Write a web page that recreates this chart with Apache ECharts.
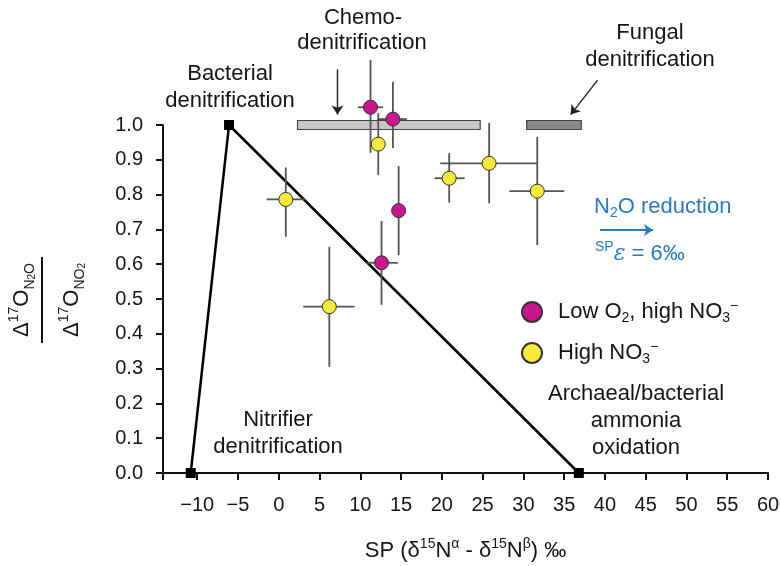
<!DOCTYPE html>
<html><head><meta charset="utf-8">
<script src="https://cdn.jsdelivr.net/npm/echarts@6/dist/echarts.min.js"></script>
<style>html,body{margin:0;padding:0;background:#fff}#c{width:781px;height:566px}</style>
</head><body><div id="c"></div>
<script>
// ---- data ----
const xTicks = [-10, -5, 0, 5, 10, 15, 20, 25, 30, 35, 40, 45, 50, 55, 60];
const yTicks = [0, 0.1, 0.2, 0.3, 0.4, 0.5, 0.6, 0.7, 0.8, 0.9, 1.0];

// Low O2, high NO3-
const lowX   = [11.25, 14.0, 14.7, 12.6];
const lowY   = [1.051, 1.017, 0.754, 0.604];
const lowXLo = [9.7, 12.1, 14.7, 10.8];
const lowXHi = [12.8, 15.7, 14.7, 14.6];
const lowYLo = [0.920, 0.934, 0.626, 0.483];
const lowYHi = [1.187, 1.124, 0.882, 0.724];

// High NO3-
const highX   = [12.2, 0.86, 20.9, 25.8, 31.7, 6.2];
const highY   = [0.945, 0.786, 0.847, 0.890, 0.810, 0.478];
const highXLo = [12.2, -1.5, 19.1, 19.8, 28.3, 3.0];
const highXHi = [12.2, 3.2, 22.8, 31.7, 35.0, 9.3];
const highYLo = [0.856, 0.679, 0.777, 0.775, 0.655, 0.305];
const highYHi = [1.034, 0.878, 0.919, 1.006, 0.966, 0.650];

// end members: nitrifier denitrification, bacterial denitrification, ammonia oxidation
const endX = [-10.8, -6.1, 36.8];
const endY = [0, 1.0, 0];

// source ranges [xStart, xEnd, y]
const chemoRange  = [2.3, 24.7, 1.0];
const fungalRange = [30.4, 37.1, 1.0];

// annotation arrows
const chemoArrow = [[7.2, 1.16], [7.2, 1.03]];
const fungalArrow = [[39.1, 1.129], [35.8, 1.03]];
const reductionArrow = [[39.4, 0.698], [45.9, 0.698]];

// ---- build ----
const FONT = 'Liberation Sans';
const TXT = '#151515';
const BLUE = '#2a7bc2';
const zip = (a, b) => a.map((v, i) => [v, b[i]]);
const errData = (x, y, xl, xh, yl, yh) => x.map((v, i) => [v, y[i], xl[i], xh[i], yl[i], yh[i]]);

function errRender(params, api) {
  const x = api.value(0), y = api.value(1);
  const a = api.coord([api.value(2), y]), b = api.coord([api.value(3), y]);
  const c = api.coord([x, api.value(4)]), d = api.coord([x, api.value(5)]);
  const st = { stroke: '#555', lineWidth: 1.8 };
  const ch = [{ type: 'line', shape: { x1: c[0], y1: c[1], x2: d[0], y2: d[1] }, style: st }];
  if (Math.abs(b[0] - a[0]) > 0.5) ch.push({ type: 'line', shape: { x1: a[0], y1: a[1], x2: b[0], y2: b[1] }, style: st });
  return { type: 'group', children: ch };
}
function rangeRender(fill) {
  return function (params, api) {
    const p0 = api.coord([api.value(0), api.value(2)]);
    const p1 = api.coord([api.value(1), api.value(2)]);
    return { type: 'rect', shape: { x: p0[0], y: p0[1] - 4.5, width: p1[0] - p0[0], height: 9 },
      style: { fill: fill, stroke: '#444', lineWidth: 1.2 } };
  };
}

const sub = { fontSize: 14, verticalAlign: 'bottom', lineHeight: 14, fontFamily: FONT };
const sup = { fontSize: 14, verticalAlign: 'top', lineHeight: 14, fontFamily: FONT };
const ss = { fontSize: 10, verticalAlign: 'bottom', lineHeight: 8, fontFamily: FONT };

const nameLow = 'Low O2, high NO3-';
const nameHigh = 'High NO3-';

function txt(text, x, y, align, color, size) {
  return { type: 'text', x: x, y: y, silent: true,
    style: { text: text, textAlign: align || 'center', textVerticalAlign: 'middle',
      fontSize: size || 22, fontFamily: FONT, fill: color || TXT } };
}

const chart = echarts.init(document.getElementById('c'), null, { renderer: 'canvas' });
chart.setOption({
  animation: false,
  backgroundColor: '#fff',
  grid: { left: 163, right: 13, top: 125, bottom: 93, containLabel: false, outerBoundsMode: 'none' },
  xAxis: {
    type: 'value', min: -14.2, max: 60,
    axisLine: { onZero: false, lineStyle: { color: '#111', width: 2 } },
    axisTick: { customValues: [-14.2].concat(xTicks), length: 7, lineStyle: { color: '#111', width: 2 } },
    axisLabel: { customValues: xTicks, fontSize: 20, fontFamily: FONT, color: TXT, margin: 22,
      formatter: v => (v < 0 ? '\u2212' + (-v) : String(v)) },
    splitLine: { show: false },
    name: 'SP (δ{sup|15}N{sup|α} - δ{sup|15}N{sup|β}) ‰',
    nameLocation: 'middle', nameGap: 64,
    nameTextStyle: { fontSize: 22, fontFamily: FONT, color: TXT, lineHeight: 28,
      rich: { sup: { fontSize: 14, verticalAlign: 'top', lineHeight: 14, fontFamily: FONT, color: TXT } } }
  },
  yAxis: {
    type: 'value', min: 0, max: 1, interval: 0.1,
    axisLine: { show: true, onZero: false, lineStyle: { color: '#111', width: 2 } },
    axisTick: { show: true, length: 7, lineStyle: { color: '#111', width: 2 } },
    axisLabel: { fontSize: 20, fontFamily: FONT, color: TXT, margin: 20, formatter: v => v.toFixed(1) },
    splitLine: { show: false }
  },
  legend: {
    data: [nameLow, nameHigh], orient: 'vertical', left: 516, top: 294,
    itemWidth: 42, itemHeight: 20, itemGap: 15,
    formatter: n => n === nameLow ? 'Low O{sub|2}, high NO{sub|3}{sup|\u2212}' : 'High NO{sub|3}{sup|\u2212}',
    textStyle: { fontSize: 22, fontFamily: FONT, color: TXT, lineHeight: 26,
      rich: { sub: Object.assign({ color: TXT }, sub), sup: Object.assign({ color: TXT }, sup) } }
  },
  series: [
    { type: 'custom', name: 'ranges', renderItem: rangeRender('#c8c8c8'), data: [chemoRange],
      encode: { x: [0, 1], y: 2 }, z: 1, clip: false, silent: true },
    { type: 'custom', name: 'ranges2', renderItem: rangeRender('#8a8a8a'), data: [fungalRange],
      encode: { x: [0, 1], y: 2 }, z: 1, clip: false, silent: true },
    { type: 'line', name: 'endmembers', data: zip(endX, endY), symbol: 'rect', symbolSize: 10,
      itemStyle: { color: '#000' }, lineStyle: { color: '#000', width: 2.5 }, z: 2, clip: false, silent: true },
    { type: 'custom', name: 'errLow', renderItem: errRender, data: errData(lowX, lowY, lowXLo, lowXHi, lowYLo, lowYHi),
      encode: { x: [0, 2, 3], y: [1, 4, 5] }, z: 3, clip: false, silent: true },
    { type: 'custom', name: 'errHigh', renderItem: errRender, data: errData(highX, highY, highXLo, highXHi, highYLo, highYHi),
      encode: { x: [0, 2, 3], y: [1, 4, 5] }, z: 3, clip: false, silent: true },
    { type: 'scatter', name: nameLow, data: zip(lowX, lowY), symbol: 'circle', symbolSize: 14, z: 5, clip: false,
      itemStyle: { color: '#c9168c', borderColor: '#333', borderWidth: 1, opacity: 1 } },
    { type: 'scatter', name: nameHigh, data: zip(highX, highY), symbol: 'circle', symbolSize: 14, z: 5, clip: false,
      itemStyle: { color: '#f6eb3b', borderColor: '#333', borderWidth: 1, opacity: 1 } },
    { type: 'lines', coordinateSystem: 'cartesian2d', z: 4, clip: false, silent: true,
      symbol: ['none', 'arrow'], symbolSize: 9,
      lineStyle: { color: '#222', width: 1.4, opacity: 1 },
      data: [{ coords: chemoArrow }, { coords: fungalArrow }] },
    { type: 'lines', coordinateSystem: 'cartesian2d', z: 4, clip: false, silent: true,
      symbol: ['none', 'arrow'], symbolSize: 9,
      lineStyle: { color: BLUE, width: 2, opacity: 1 },
      data: [{ coords: reductionArrow }] }
  ],
  graphic: [
    txt('Chemo-', 363, 18), txt('denitrification', 362, 43),
    txt('Bacterial', 230, 74), txt('denitrification', 230, 101),
    txt('Fungal', 650, 33), txt('denitrification', 650, 60),
    txt('Nitrifier', 278, 420), txt('denitrification', 278, 447),
    txt('Archaeal/bacterial', 636, 394), txt('ammonia', 636, 421), txt('oxidation', 636, 448),
    { type: 'text', x: 594, y: 207, silent: true,
      style: { text: 'N{sub|2}O reduction', textAlign: 'left', textVerticalAlign: 'middle', fontSize: 22,
        fontFamily: FONT, fill: BLUE, lineHeight: 26, rich: { sub: Object.assign({ fill: BLUE }, sub) } } },
    { type: 'text', x: 595, y: 254, silent: true,
      style: { text: '{sup|SP}{e|ε} = 6‰', textAlign: 'left', textVerticalAlign: 'middle', fontSize: 22,
        fontFamily: FONT, fill: BLUE, lineHeight: 28,
        rich: { sup: Object.assign({ fill: BLUE }, sup), e: { fontSize: 22, fontStyle: 'italic', fontFamily: 'DejaVu Serif', fill: BLUE, lineHeight: 28 } } } },
    // y-axis fraction label
    { type: 'text', x: 22, y: 300, rotation: Math.PI / 2, silent: true,
      style: { text: 'Δ{sup|17}O{sub|N}{ss|2}{sub|O}', textAlign: 'center', textVerticalAlign: 'middle', fontSize: 22,
        fontFamily: FONT, fill: TXT, lineHeight: 30, rich: { sup: sup, sub: sub, ss: ss } } },
    { type: 'line', shape: { x1: 42, y1: 257, x2: 42, y2: 343 }, style: { stroke: '#111', lineWidth: 2 }, silent: true },
    { type: 'text', x: 72, y: 300, rotation: Math.PI / 2, silent: true,
      style: { text: 'Δ{sup|17}O{sub|NO}{ss|2}', textAlign: 'center', textVerticalAlign: 'middle', fontSize: 22,
        fontFamily: FONT, fill: TXT, lineHeight: 30, rich: { sup: sup, sub: sub, ss: ss } } }
  ]
});
</script></body></html>
